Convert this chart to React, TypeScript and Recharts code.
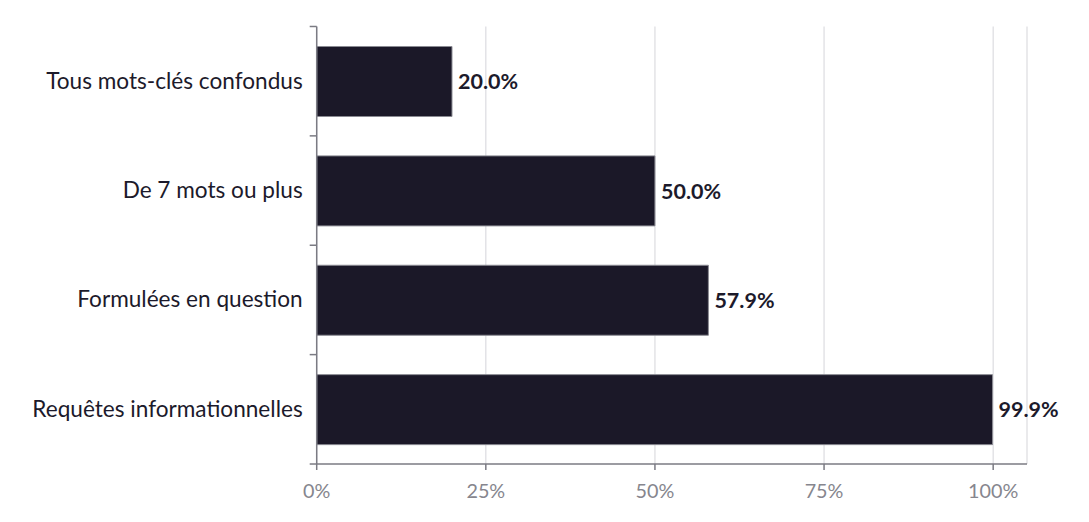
import React from 'react';
import { BarChart, Bar, XAxis, YAxis, CartesianGrid, LabelList } from 'recharts';

const categories = [
  'Tous mots-clés confondus',
  'De 7 mots ou plus',
  'Formulées en question',
  'Requêtes informationnelles',
];
const shares = [20.0, 50.0, 57.9, 99.9];
const xTicks = [0, 25, 50, 75, 100];

const chartData = categories.map((name, i) => ({ name, value: shares[i] }));

const AXIS = '#7b7b83';
const FONT = 'Lato, "Noto Sans", sans-serif';

// category label at band centre, tick marks at band edges
const CategoryTick = (props: any) => {
  const { x, y, payload, index } = props;
  const band = 109.4;
  return (
    <g>
      <line x1={x + 1} x2={x + 8} y1={y - band / 2} y2={y - band / 2} stroke={AXIS} strokeWidth={1.5} />
      {index === categories.length - 1 && (
        <line x1={x + 1} x2={x + 8} y1={y + band / 2} y2={y + band / 2} stroke={AXIS} strokeWidth={1.5} />
      )}
      <text x={x - 6} y={y} dy={7.5} textAnchor="end" fill="#1c1a2b" fontSize={22.6} fontFamily={FONT}>
        {payload.value}
      </text>
    </g>
  );
};

const App = () => {
  return (
    <div style={{ width: 1073, height: 506, background: '#fff' }}>
      <BarChart
        width={1073}
        height={506}
        data={chartData}
        layout="vertical"
        margin={{ top: 18.5, right: 54, left: 0, bottom: 20 }}
        barSize={70}
      >
        <CartesianGrid horizontal={false} stroke="#dcdce0" strokeWidth={1.2} />
        <XAxis
          type="number"
          domain={[0, 105]}
          ticks={xTicks}
          tickFormatter={(v: number) => `${v}%`}
          stroke={AXIS}
          strokeWidth={1.5}
          tickSize={6}
          height={30}
          tick={{ fill: '#86868e', fontSize: 19.8, fontFamily: FONT, dy: 12 }}
        />
        <YAxis
          type="category"
          dataKey="name"
          width={308.7}
          stroke={AXIS}
          strokeWidth={1.5}
          tickLine={false}
          tick={<CategoryTick />}
        />
        <Bar dataKey="value" fill="#1b1828" stroke="#8a8a92" strokeWidth={1} isAnimationActive={false}>
          <LabelList
            dataKey="value"
            position="right"
            offset={6}
            formatter={(v: number) => `${v.toFixed(1)}%`}
            style={{ fill: '#1c1a2b', fontSize: 21.5, fontWeight: 700, fontFamily: FONT }}
          />
        </Bar>
      </BarChart>
    </div>
  );
};

export default App;
